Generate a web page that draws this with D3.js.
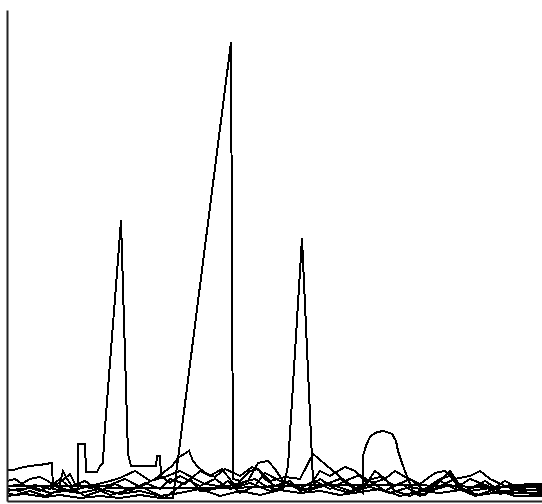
<!DOCTYPE html>
<html>
<head>
<meta charset="utf-8">
<script src="https://cdn.jsdelivr.net/npm/d3@7"></script>
<style>
  html, body { margin: 0; padding: 0; background: #fff; }
  svg { display: block; }
  .series { fill: none; stroke: #000; stroke-width: 2; shape-rendering: crispEdges; stroke-linejoin: miter; }
  .axis path { stroke: #222; stroke-width: 2; }
</style>
</head>
<body>
<svg width="542" height="504"></svg>
<script>
// DATA: each series is a list of [x, value] pairs
const s1 = [[0,6.2],[1.4,6.2],[2.6,6.6],[4.6,7],[6.6,7.2],[9,7.6],[9.2,2.4],[11.6,2],[14.6,1.6],[18.6,2.4],[22.6,1.4],[26.6,2],[30.6,1],[34.6,1.6],[38.6,2.4],[42.6,1],[46.6,2],[50.6,1.2],[54.6,2.2],[58.6,1.6],[62.6,2],[66.6,1.2],[70.6,1.8],[74.6,2.4],[78.6,1],[82.6,2],[86.6,1.6],[90.6,2.2],[94.6,1.2],[98.6,1.8],[102.6,2.4],[103.6,3.4],[107,3.4]];
const s2 = [[0,2],[2.6,2.4],[5.6,2.6],[8.6,1.6],[11.6,2],[13.4,2.4],[14.2,2.4],[14.2,11.4],[15.6,11.4],[15.8,5.8],[18,5.8],[18.6,7],[19.2,7.6],[19.4,12],[22.8,56],[24.2,9.4],[24.8,7],[29.8,7],[30,9],[30.6,9],[30.8,5],[31.6,4.4],[32.6,3.6],[34.6,5],[36.6,4],[38.6,3],[41.6,4.4],[44.6,2.4],[48.6,3.6],[52.6,2],[56.6,3.2],[60.6,2.2],[64.6,3.4],[68.6,2],[72.6,2.8],[76.6,1.6],[80.6,2.8],[84.6,2],[88.6,3.2],[92.6,2],[96.6,2.6],[100.6,1.6],[107,1.6]];
const s3 = [[0,1],[3.6,1.4],[7.6,0.8],[10.6,1.2],[14.6,0.6],[18.6,1],[22.6,0.6],[26.6,1.2],[30.6,0.6],[33.2,0.6],[44.8,91.6],[45.2,4.4],[46.6,4],[48.6,6],[50.2,6.4],[51.6,4.4],[53.6,3],[56.6,4],[58.6,2],[62.6,3],[66.6,4.4],[69.6,2.4],[72.6,4],[75.6,2],[78.6,3.6],[82.6,1],[86.6,3],[89.6,4.4],[91.6,2],[94.6,3.2],[98.6,1.4],[102.6,2.4],[107,2]];
const s4 = [[0,3],[2.6,3.2],[4.6,4.4],[6.6,4.8],[8.2,4],[9.6,3],[12.6,2],[16.6,3],[20.6,4],[22.6,4.6],[25.6,6],[28.6,4],[31.6,4.8],[34.6,6],[37.6,4.4],[39.6,3.4],[43.6,2.8],[46.6,3.6],[49.6,4.4],[51.6,3],[53.6,2.4],[55.2,2.4],[56.2,7],[59,52.4],[61.2,4],[62.6,6],[64.6,5],[67.6,6.8],[69.6,6],[71.6,4],[74.6,4.8],[77.6,3],[80.6,4.4],[83.6,2],[86.6,4],[89.6,2.4],[92.6,4.4],[94.6,3.6],[97.6,2.4],[100.6,3.2],[107,3.2]];
const s5 = [[0,4],[1.6,4.4],[3.6,3],[6.6,2],[9.6,3.6],[10.6,4.4],[12.2,3],[15.6,1],[18.6,2],[21.6,3.4],[24.6,2],[27.6,3.6],[30.6,2.4],[32.6,4.4],[35.6,3.4],[38.6,6],[40.6,5],[43,6.4],[45.6,3],[48.2,4],[50.2,7.6],[52.2,8],[53.6,6.4],[55.2,4],[58.2,2.4],[61.6,4],[64.6,2.4],[67.6,4],[71.2,1.6],[71.2,9],[71.8,11],[72.6,12.8],[73.6,13.6],[75.2,14],[77,13.4],[77.8,12],[78.2,10],[79.2,7],[80.2,4.4],[81.2,2],[83.6,1.2],[86.6,4],[88.6,6],[90.2,3.6],[92.6,2.4],[95.6,4],[98.6,2],[101.6,1],[107,1]];
const s6 = [[0,2.4],[2.6,2],[5.6,3.2],[8.6,2.4],[11,4],[12.6,5.4],[13.6,3.4],[16.6,2.6],[20.6,3.2],[23.6,4.4],[26.6,2.8],[29.6,4.4],[31.2,5.6],[33,7],[34.2,8.6],[36.4,10],[37.2,8],[38,7],[39.6,5.6],[41.6,4.8],[43.6,6.4],[46.6,5],[49,6.8],[50.6,6],[52.6,4],[55.6,4.8],[58.6,4.4],[61.2,9.4],[65.2,6],[67.6,4],[70.6,5.2],[73,3.6],[75.6,4.4],[77.6,6],[79.6,4.8],[82.6,3.4],[85.6,5.6],[87.6,6],[89.6,4.4],[92.6,5],[94.6,6],[96.6,4.4],[99.6,3],[102.6,2],[107,2.4]];
const s7 = [[0,1.6],[1.6,1.2],[4.6,2],[7.6,1],[10.2,2],[11.2,6],[12,4.4],[13,3],[15.6,4],[17.6,2.6],[20.6,1.2],[23.6,2],[26.6,3],[28.6,2],[31.6,0.6],[34.6,3],[36.6,4.4],[38.6,2],[41.6,2.4],[44.2,4],[46.6,1.6],[49.6,3],[51.6,5.6],[54.6,4],[57.6,3],[59.6,2],[62.6,4.4],[65.6,2.4],[68.6,1.6],[71.6,3],[73.6,6],[75.6,4.4],[77.6,2],[80.6,1],[83.6,2.4],[86.6,4.4],[88.6,5],[90.6,2.4],[93.6,1],[96.6,2],[99.6,4],[101.6,3],[104.6,1.4],[107,1.4]];
const s8 = [[0,3],[20,3],[20.2,2.6],[45,2.6],[60,3.2],[80,3.2],[95,2.8],[107,2.8]];

const allSeries = [s1, s2, s3, s4, s5, s6, s7, s8];
const xDomain = [0, 107];
const yDomain = [0, 98];

// SETUP
const svg = d3.select("svg");
const margin = { top: 10, right: 0, bottom: 3, left: 7 };
const width = 542 - margin.left - margin.right,
  height = 504 - margin.top - margin.bottom;

const g = svg.append("g").attr("transform", `translate(${margin.left}, ${margin.top})`);

const xScale = d3.scaleLinear().domain(xDomain).range([0, width]);
const yScale = d3.scaleLinear().domain(yDomain).range([height, 0]);

const line = d3.line()
  .x((d) => xScale(d[0]))
  .y((d) => yScale(d[1]));

// plot lines
g.selectAll("path.series")
  .data(allSeries)
  .enter()
  .append("path")
  .attr("class", "series")
  .attr("d", line);

// axes: bare lines, no ticks or labels
g.append("g")
  .attr("class", "axis")
  .attr("transform", `translate(0,${height})`)
  .call(d3.axisBottom(xScale).ticks(0).tickSizeOuter(0));

g.append("g")
  .attr("class", "axis")
  .call(d3.axisLeft(yScale).ticks(0).tickSizeOuter(0));
</script>
</body>
</html>
